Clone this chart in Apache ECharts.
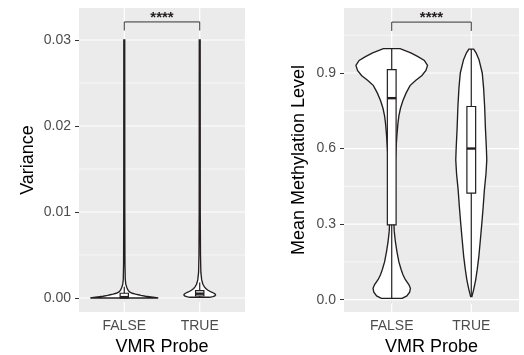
<!DOCTYPE html>
<html><head><meta charset="utf-8">
<script src="https://cdn.jsdelivr.net/npm/echarts@6/dist/echarts.min.js"></script>
<style>html,body{margin:0;padding:0;background:#fff}#c{width:524px;height:355px}</style>
</head><body><div id="c"></div>
<script>
// ---- data ----
const categories = ['FALSE', 'TRUE'];

const varTicks = [0, 0.01, 0.02, 0.03];
const varTickLabels = ['0.00', '0.01', '0.02', '0.03'];
const varMinor = [0.005, 0.015, 0.025];
const methTicks = [0, 0.3, 0.6, 0.9];
const methTickLabels = ['0.0', '0.3', '0.6', '0.9'];
const methMinor = [0.15, 0.45, 0.75, 1.05];

// violin profiles: value and half-width (in category units)
const varFalseY = [0, 0.0001, 0.0002, 0.0003, 0.00035, 0.00045, 0.00055, 0.0007, 0.0009, 0.0012, 0.0016, 0.0022, 0.004, 0.01, 0.03];
const varFalseW = [0.45, 0.38, 0.28, 0.22, 0.2, 0.15, 0.105, 0.07, 0.05, 0.035, 0.02, 0.013, 0.009, 0.007, 0.006];
const varTrueY = [0.00008, 0.00015, 0.00025, 0.00035, 0.00045, 0.00055, 0.0007, 0.0009, 0.0011, 0.0013, 0.0016, 0.0021, 0.003, 0.005, 0.01, 0.03];
const varTrueW = [0.13, 0.175, 0.2, 0.21, 0.205, 0.19, 0.15, 0.11, 0.08, 0.062, 0.042, 0.026, 0.015, 0.01, 0.007, 0.006];

const methFalseY = [0.005, 0.015, 0.03, 0.045, 0.06, 0.08, 0.10, 0.12, 0.15, 0.19, 0.23, 0.27, 0.30, 0.35, 0.45, 0.55, 0.62, 0.66, 0.70, 0.73, 0.76, 0.79, 0.82, 0.85, 0.87, 0.89, 0.91, 0.93, 0.95, 0.965, 0.98, 0.997];
const methFalseW = [0.13, 0.19, 0.225, 0.235, 0.215, 0.17, 0.14, 0.118, 0.09, 0.066, 0.046, 0.032, 0.027, 0.03, 0.036, 0.045, 0.058, 0.067, 0.078, 0.09, 0.11, 0.14, 0.18, 0.23, 0.3, 0.38, 0.43, 0.45, 0.41, 0.33, 0.24, 0.105];
const methTrueY = [0.012, 0.04, 0.078, 0.12, 0.171, 0.24, 0.304, 0.37, 0.436, 0.5, 0.555, 0.6, 0.68, 0.767, 0.84, 0.9, 0.953, 0.98, 0.995];
const methTrueW = [0.008, 0.03, 0.055, 0.075, 0.095, 0.115, 0.133, 0.15, 0.165, 0.185, 0.195, 0.19, 0.178, 0.168, 0.155, 0.138, 0.097, 0.06, 0.03];

// box stats: [whiskerLow, q1, median, q3, whiskerHigh]
const varFalseBox = [0, 0.00001, 0.0001, 0.00055, 0.0013];
const varTrueBox = [0.00008, 0.00023, 0.0005, 0.00085, 0.0018];
const methFalseBox = [0.005, 0.297, 0.80, 0.913, 0.997];
const methTrueBox = [0.012, 0.423, 0.60, 0.767, 0.995];

// significance brackets: [top, bottom of ends]
const varBracket = [0.0321, 0.0311];
const methBracket = [1.102, 1.067];
const sigLabel = '****';

// ---- drawing ----
const INK = '#231f20';
const FONT = 'Liberation Sans, Arial, sans-serif';
const XMIN = 0.4, XMAX = 2.6;

const violins = [
  [[varFalseY, varFalseW, varFalseBox], [varTrueY, varTrueW, varTrueBox]],
  [[methFalseY, methFalseW, methFalseBox], [methTrueY, methTrueW, methTrueBox]]
];

function gridLines(horizontal) {
  return function (params, api) {
    const v = api.value(0), w = api.value(1);
    let p1, p2;
    if (horizontal) { p1 = api.coord([XMIN, v]); p2 = api.coord([XMAX, v]); }
    else {
      const cs = params.coordSys;
      p1 = [api.coord([v, 0])[0], cs.y]; p2 = [p1[0], cs.y + cs.height];
    }
    return { type: 'line', shape: { x1: p1[0], y1: p1[1], x2: p2[0], y2: p2[1] },
      style: { stroke: '#ffffff', lineWidth: w } };
  };
}

function violinRender(panel) {
  return function (params, api) {
    const xc = api.value(0);
    const idx = api.value(1);
    const [ys, ws, box] = violins[panel][idx];
    const pts = [];
    for (let i = 0; i < ys.length; i++) pts.push(api.coord([xc + ws[i], ys[i]]));
    for (let i = ys.length - 1; i >= 0; i--) pts.push(api.coord([xc - ws[i], ys[i]]));
    const bw = 0.055;
    const lo = api.coord([xc, box[0]]), hi = api.coord([xc, box[4]]);
    const q1l = api.coord([xc - bw, box[1]]), q3r = api.coord([xc + bw, box[3]]);
    const ml = api.coord([xc - bw, box[2]]), mr = api.coord([xc + bw, box[2]]);
    return { type: 'group', children: [
      { type: 'polygon', shape: { points: pts }, style: { fill: '#ffffff', stroke: INK, lineWidth: 1.35 } },
      { type: 'line', shape: { x1: lo[0], y1: lo[1], x2: hi[0], y2: hi[1] }, style: { stroke: INK, lineWidth: 1.2 } },
      { type: 'rect', shape: { x: q1l[0], y: q3r[1], width: q3r[0] - q1l[0], height: q1l[1] - q3r[1] },
        style: { fill: '#ffffff', stroke: INK, lineWidth: 1.2 } },
      { type: 'line', shape: { x1: ml[0], y1: ml[1], x2: mr[0], y2: mr[1] }, style: { stroke: INK, lineWidth: 2.4 } }
    ] };
  };
}

function bracketRender(br) {
  return function (params, api) {
    const a = api.value(0), b = api.value(1);
    const p1 = api.coord([a, br[1]]), p2 = api.coord([a, br[0]]);
    const p3 = api.coord([b, br[0]]), p4 = api.coord([b, br[1]]);
    return { type: 'group', children: [
      { type: 'polyline', shape: { points: [p1, p2, p3, p4] }, style: { stroke: INK, lineWidth: 0.9, fill: null } },
      { type: 'text', style: { text: sigLabel, x: (p2[0] + p3[0]) / 2, y: p2[1] + 3,
        textAlign: 'center', textVerticalAlign: 'bottom', font: 'bold 15px ' + FONT, fill: INK } }
    ] };
  };
}

const minorW = 0.6, majorW = 1.2;

function yAxis(gi, min, max, ticks, labels, name, gap) {
  return {
    type: 'value', gridIndex: gi, min: min, max: max,
    axisLine: { show: false },
    axisTick: { show: true, length: 4, customValues: ticks, lineStyle: { color: '#333333', width: 1 } },
    axisLabel: { customValues: ticks, margin: 8, color: '#4d4d4d', fontSize: 14, fontFamily: FONT,
      formatter: function (v) { const i = ticks.findIndex(t => Math.abs(t - v) < 1e-9); return i >= 0 ? labels[i] : ''; } },
    splitLine: { show: false },
    name: name, nameLocation: 'middle', nameGap: gap,
    nameTextStyle: { color: '#000', fontSize: 18, fontFamily: FONT }
  };
}
function xAxis(gi) {
  return {
    type: 'value', gridIndex: gi, min: XMIN, max: XMAX,
    axisLine: { show: false },
    axisTick: { show: true, length: 4, customValues: [1, 2], lineStyle: { color: '#333333', width: 1 } },
    axisLabel: { customValues: [1, 2], margin: 7, color: '#4d4d4d', fontSize: 14, fontFamily: FONT,
      formatter: function (v) { return categories[Math.round(v) - 1] || ''; } },
    splitLine: { show: false },
    name: 'VMR Probe', nameLocation: 'middle', nameGap: 24,
    nameTextStyle: { color: '#000', fontSize: 18, fontFamily: FONT }
  };
}

const chart = echarts.init(document.getElementById('c'), null, { renderer: 'canvas' });
chart.setOption({
  animation: false,
  backgroundColor: '#ffffff',
  grid: [
    { left: 79, top: 8, width: 166, height: 304, show: true, backgroundColor: '#ebebeb', borderWidth: 0, containLabel: false, outerBoundsMode: 'none' },
    { left: 344, top: 8, width: 175, height: 304, show: true, backgroundColor: '#ebebeb', borderWidth: 0, containLabel: false, outerBoundsMode: 'none' }
  ],
  xAxis: [xAxis(0), xAxis(1)],
  yAxis: [
    yAxis(0, -0.00163, 0.03372, varTicks, varTickLabels, 'Variance', 42),
    yAxis(1, -0.049, 1.158, methTicks, methTickLabels, 'Mean Methylation Level', 36)
  ],
  series: [
    { type: 'custom', xAxisIndex: 0, yAxisIndex: 0, renderItem: gridLines(true), z: 1, silent: true,
      data: varMinor.map(v => [v, minorW]).concat(varTicks.map(v => [v, majorW])), encode: { x: -1, y: 0 } },
    { type: 'custom', xAxisIndex: 0, yAxisIndex: 0, renderItem: gridLines(false), z: 1, silent: true,
      data: [[1, majorW], [2, majorW]], encode: { x: 0, y: -1 } },
    { type: 'custom', xAxisIndex: 1, yAxisIndex: 1, renderItem: gridLines(true), z: 1, silent: true,
      data: methMinor.map(v => [v, minorW]).concat(methTicks.map(v => [v, majorW])), encode: { x: -1, y: 0 } },
    { type: 'custom', xAxisIndex: 1, yAxisIndex: 1, renderItem: gridLines(false), z: 1, silent: true,
      data: [[1, majorW], [2, majorW]], encode: { x: 0, y: -1 } },
    { type: 'custom', xAxisIndex: 0, yAxisIndex: 0, renderItem: violinRender(0), z: 3, silent: true,
      data: [[1, 0], [2, 1]], encode: { x: 0, y: -1 } },
    { type: 'custom', xAxisIndex: 1, yAxisIndex: 1, renderItem: violinRender(1), z: 3, silent: true,
      data: [[1, 0], [2, 1]], encode: { x: 0, y: -1 } },
    { type: 'custom', xAxisIndex: 0, yAxisIndex: 0, renderItem: bracketRender(varBracket), z: 4, silent: true,
      data: [[1, 2]], encode: { x: [0, 1], y: -1 } },
    { type: 'custom', xAxisIndex: 1, yAxisIndex: 1, renderItem: bracketRender(methBracket), z: 4, silent: true,
      data: [[1, 2]], encode: { x: [0, 1], y: -1 } }
  ]
});
</script></body></html>
